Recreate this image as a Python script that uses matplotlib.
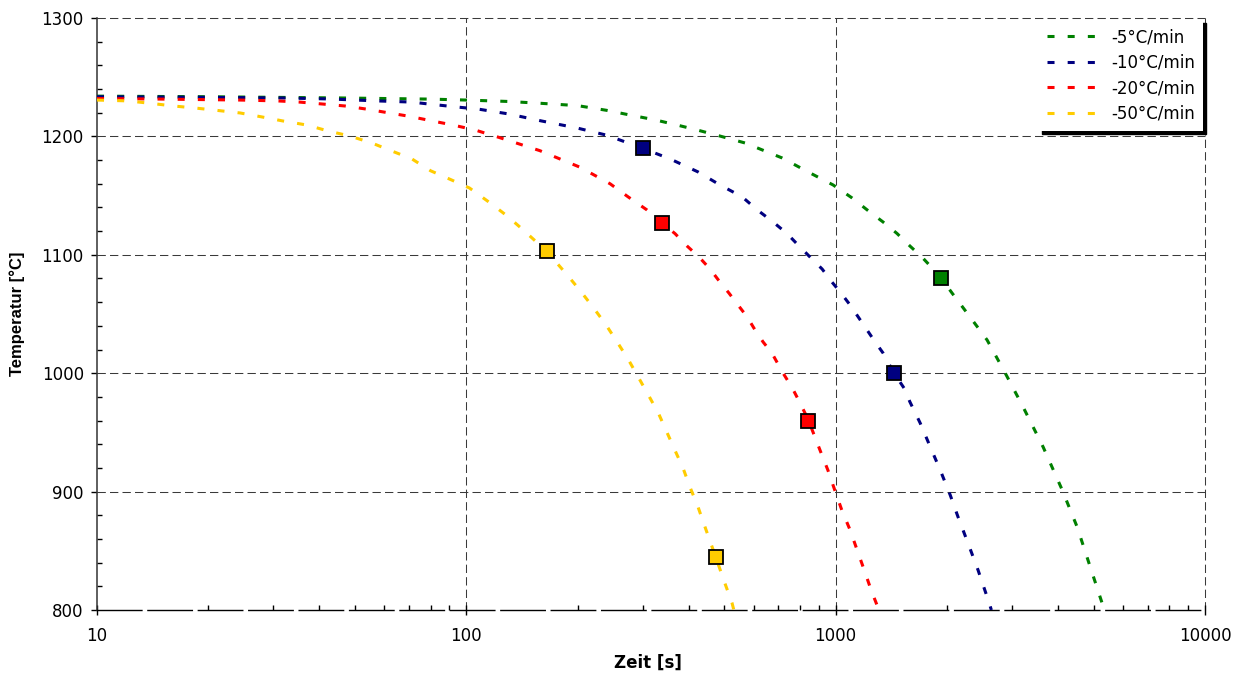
import matplotlib
matplotlib.use("Agg")
import matplotlib.pyplot as plt
from matplotlib.ticker import FixedLocator, LogLocator, MultipleLocator, NullFormatter, FuncFormatter

plt.rcParams['font.family'] = ['DejaVu Sans']

# --- cooling curves: time [s] and temperature [°C] ---
labels = ["-5°C/min", "-10°C/min", "-20°C/min", "-50°C/min"]
colors = ["#008000", "#000080", "#FF0000", "#FFCC00"]

t_5 = [10, 20, 30, 45, 60, 80, 100, 130, 158, 200, 240, 278, 324, 372, 422, 486, 569,
       716, 842, 984, 1108, 1216, 1344, 1466, 1589, 1713, 1836, 1929, 2066, 2311, 2571,
       2877, 3217, 3645, 4105, 4508, 4890, 5264, 5340]
T_5 = [1234, 1233.5, 1233, 1232.5, 1232, 1231.5, 1230.7, 1229.5, 1228, 1226, 1222, 1218,
       1214, 1209.6, 1205.4, 1200.3, 1194.4, 1181.8, 1170, 1159, 1148, 1138, 1127.7, 1118,
       1107.4, 1098, 1088, 1080.4, 1067.7, 1047.5, 1028, 1000.2, 971.5, 937.7, 901.4, 870,
       836.3, 805.9, 800]

t_10 = [10, 20, 32.7, 42.8, 57, 71, 81, 94.5, 108, 130, 160, 200, 240, 300, 356, 424, 486,
        558, 613, 677, 738, 796, 853, 919, 977, 1034, 1094, 1151, 1216, 1279, 1344, 1438,
        1531, 1589, 1693, 1804, 1920, 2043, 2145, 2281, 2429, 2588, 2640]
T_10 = [1233.5, 1233, 1232.4, 1231.6, 1230, 1229, 1227, 1224.8, 1223, 1219, 1213, 1207,
        1201, 1190, 1181, 1170, 1159, 1149, 1138, 1127.7, 1118, 1107.4, 1098, 1088, 1077,
        1067.7, 1057.6, 1047.5, 1036.5, 1026.4, 1017, 1000.2, 987.5, 975.7, 958, 937.7,
        918, 897, 878.5, 856.6, 833.8, 808.4, 800]

t_20 = [10, 15, 24.4, 30.7, 35.3, 40.6, 46.9, 53.8, 61.3, 70, 81, 92, 105.6, 123, 158, 203,
        245, 274, 308, 338, 367, 396, 427, 457, 486, 514, 544, 576, 605, 636, 672, 720, 763,
        801, 842, 907, 953, 995, 1040, 1094, 1143, 1194, 1247, 1303]
T_20 = [1232, 1231.5, 1230.7, 1230, 1229, 1227.4, 1225.7, 1223, 1220, 1217, 1213, 1209.6,
        1205.4, 1199, 1188, 1174, 1160, 1149, 1138, 1127, 1118, 1107.4, 1098, 1088, 1077,
        1067.7, 1057.6, 1047.5, 1036.5, 1026.4, 1017, 1000.2, 987.5, 974.8, 961, 935, 918,
        901, 884, 867.6, 850.7, 834, 817, 801.7]

t_50 = [10, 12.1, 13.9, 16.1, 18.4, 21.1, 24.4, 28, 31.9, 37, 42.2, 48.4, 55.5, 62.8, 71.2,
        80, 90, 102, 116, 129, 141.6, 165, 187.5, 203, 220, 238, 256, 274, 292, 311, 331,
        349, 367, 386, 403, 424, 443, 473, 501, 524, 530]
T_50 = [1230.7, 1230, 1228, 1225.7, 1224, 1222, 1219.8, 1216.4, 1213, 1209.6, 1204.6,
        1200.3, 1194.4, 1187.7, 1181, 1171, 1164, 1156.4, 1143.8, 1132.8, 1121.8, 1103, 1083,
        1070, 1056, 1041.6, 1026.4, 1012, 996.8, 981.6, 966.4, 950.3, 935, 920, 904, 887,
        870, 845, 822.8, 806, 800]

# transformation points marked on each curve
mt_5, mT_5 = [1930], [1080]
mt_10, mT_10 = [300, 1440], [1190, 1000]
mt_20, mT_20 = [338, 842], [1127, 960]
mt_50, mT_50 = [165, 473], [1103, 845]

x_ticks = [10, 100, 1000, 10000]
y_ticks = [800, 900, 1000, 1100, 1200, 1300]

curves = [(t_5, T_5), (t_10, T_10), (t_20, T_20), (t_50, T_50)]
marks = [(mt_5, mT_5), (mt_10, mT_10), (mt_20, mT_20), (mt_50, mT_50)]

fig = plt.figure(figsize=(12.48, 6.79), dpi=100)
ax = fig.add_axes([97 / 1248, 1 - 610 / 679, (1205 - 97) / 1248, (610 - 18) / 679])
ax.set_xscale('log')
ax.set_xlim(10, 10000)
ax.set_ylim(800, 1300)

# dashed grid
grid_style = dict(color='#3a3a3a', lw=0.75, linestyle=(0, (8, 4)), zorder=1, clip_on=False)
for yv in y_ticks[1:]:
    ax.axhline(yv, **grid_style)
for xv in x_ticks[1:]:
    ax.axvline(xv, **grid_style)

lines = []
for (t, T), c, lab in zip(curves, colors, labels):
    ln, = ax.plot(t, T, color=c, lw=2.2, linestyle=(0, (2.3, 4.3)),
                  dash_capstyle='butt', label=lab, zorder=3)
    lines.append(ln)
for (t, T), c in zip(marks, colors):
    ax.plot(t, T, linestyle='none', marker='s', ms=10, mfc=c, mec='black',
            mew=1.3, zorder=4)

# axes
ax.xaxis.set_major_locator(FixedLocator(x_ticks))
ax.xaxis.set_major_formatter(FuncFormatter(lambda v, p: f"{int(round(v))}"))
ax.xaxis.set_minor_locator(LogLocator(base=10, subs=range(2, 10)))
ax.xaxis.set_minor_formatter(NullFormatter())
ax.yaxis.set_major_locator(FixedLocator(y_ticks))
ax.yaxis.set_minor_locator(MultipleLocator(20))

ax.tick_params(axis='x', which='major', direction='inout', length=7, width=1,
               pad=8.5, labelsize=12, colors='black')
ax.tick_params(axis='x', which='minor', direction='in', length=3.5, width=1)
ax.tick_params(axis='y', which='major', direction='out', length=4, width=1,
               pad=5.5, labelsize=12)
ax.tick_params(axis='y', which='minor', direction='in', length=3.5, width=1)

for s in ('top', 'right'):
    ax.spines[s].set_visible(False)
ax.spines['left'].set_color('#333333')
ax.spines['left'].set_linewidth(1.1)
ax.spines['bottom'].set_color('black')
ax.spines['bottom'].set_linewidth(1.0)
ax.spines['bottom'].set_linestyle((0, (32, 4.3)))

ax.set_xlabel("Zeit [s]", fontsize=12, fontweight='bold')
ax.xaxis.label.set_va('center')
ax.xaxis.set_label_coords(0.497, -53 / 592)
ax.set_ylabel("Temperatur [°C]", fontsize=12, fontweight='bold',
              family=['Liberation Sans', 'DejaVu Sans'])
ax.yaxis.label.set_va('center')
ax.yaxis.set_label_coords(-80 / 1108, 0.5)

leg = ax.legend(handles=lines, labels=labels, loc='upper right',
                bbox_to_anchor=(1203 / 1248, 1 - 20 / 679), bbox_transform=fig.transFigure,
                frameon=True, fancybox=False, edgecolor='none', facecolor='white',
                framealpha=1, shadow={'color': 'black', 'alpha': 1},
                handlelength=3.2, handletextpad=0.6, labelspacing=0.45,
                borderpad=0.5, fontsize=12, borderaxespad=0)
leg.set_zorder(5)

fig.savefig("out.png", dpi=100)
